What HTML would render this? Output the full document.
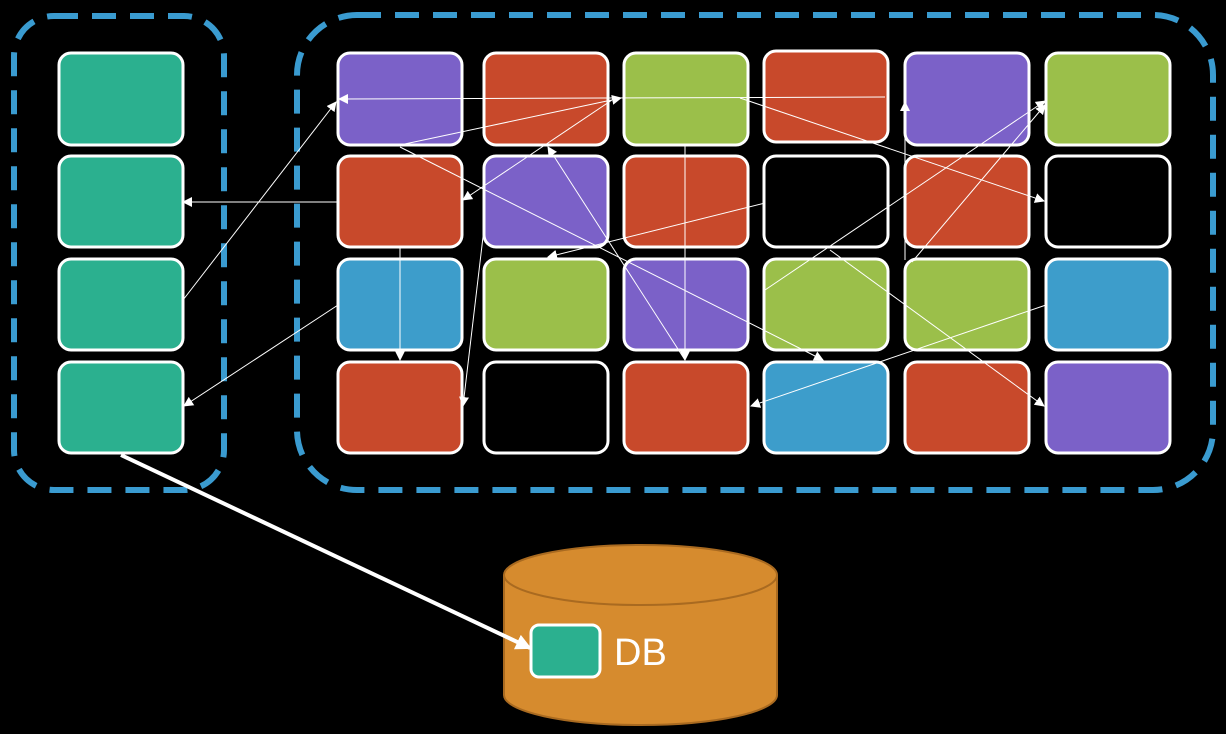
<!DOCTYPE html>
<html><head><meta charset="utf-8"><style>
html,body{margin:0;padding:0;background:#000;}
svg{display:block}
</style></head><body>
<svg width="1226" height="734" viewBox="0 0 1226 734" xmlns="http://www.w3.org/2000/svg">
<defs>
<marker id="a" markerWidth="10" markerHeight="10" refX="9" refY="5" orient="auto" markerUnits="userSpaceOnUse"><path d="M0,0 L10,5 L0,10 z" fill="#fff"/></marker>
<marker id="b" markerWidth="16" markerHeight="16" refX="14" refY="8" orient="auto" markerUnits="userSpaceOnUse"><path d="M0,0 L16,8 L0,16 z" fill="#fff"/></marker>
</defs>
<rect x="14" y="16" width="210" height="474" rx="40" fill="none" stroke="#3a9bd0" stroke-width="6" stroke-dasharray="24,14"/>
<rect x="297" y="15" width="916" height="475" rx="60" fill="none" stroke="#3a9bd0" stroke-width="6" stroke-dasharray="24,14"/>
<g stroke="#fff" stroke-width="3">
<rect x="59" y="53" width="124" height="92" rx="12" fill="#2bb08f"/>
<rect x="59" y="156" width="124" height="91" rx="12" fill="#2bb08f"/>
<rect x="59" y="259" width="124" height="91" rx="12" fill="#2bb08f"/>
<rect x="59" y="362" width="124" height="91" rx="12" fill="#2bb08f"/>

<rect x="338" y="53" width="124" height="92" rx="12" fill="#7b61c8"/>
<rect x="484" y="53" width="124" height="92" rx="12" fill="#c8492b"/>
<rect x="624" y="53" width="124" height="92" rx="12" fill="#9bbf4a"/>
<rect x="764" y="51" width="124" height="91" rx="12" fill="#c8492b"/>
<rect x="905" y="53" width="124" height="92" rx="12" fill="#7b61c8"/>
<rect x="1046" y="53" width="124" height="92" rx="12" fill="#9bbf4a"/>

<rect x="338" y="156" width="124" height="91" rx="12" fill="#c8492b"/>
<rect x="484" y="156" width="124" height="91" rx="12" fill="#7b61c8"/>
<rect x="624" y="156" width="124" height="91" rx="12" fill="#c8492b"/>
<rect x="764" y="156" width="124" height="91" rx="12" fill="#000"/>
<rect x="905" y="156" width="124" height="91" rx="12" fill="#c8492b"/>
<rect x="1046" y="156" width="124" height="91" rx="12" fill="#000"/>

<rect x="338" y="259" width="124" height="91" rx="12" fill="#3d9dcb"/>
<rect x="484" y="259" width="124" height="91" rx="12" fill="#9bbf4a"/>
<rect x="624" y="259" width="124" height="91" rx="12" fill="#7b61c8"/>
<rect x="764" y="259" width="124" height="91" rx="12" fill="#9bbf4a"/>
<rect x="905" y="259" width="124" height="91" rx="12" fill="#9bbf4a"/>
<rect x="1046" y="259" width="124" height="91" rx="12" fill="#3d9dcb"/>

<rect x="338" y="362" width="124" height="91" rx="12" fill="#c8492b"/>
<rect x="484" y="362" width="124" height="91" rx="12" fill="#000"/>
<rect x="624" y="362" width="124" height="91" rx="12" fill="#c8492b"/>
<rect x="764" y="362" width="124" height="91" rx="12" fill="#3d9dcb"/>
<rect x="905" y="362" width="124" height="91" rx="12" fill="#c8492b"/>
<rect x="1046" y="362" width="124" height="91" rx="12" fill="#7b61c8"/>
</g>
<g stroke="#fff" stroke-width="1" fill="none" marker-end="url(#a)">
<line x1="885" y1="97" x2="339" y2="99"/>
<line x1="183" y1="300" x2="336" y2="102"/>
<line x1="338" y1="202" x2="183" y2="202"/>
<line x1="338" y1="305" x2="184" y2="406"/>
<line x1="400" y1="248" x2="400" y2="360"/>
<line x1="400" y1="145" x2="621" y2="98"/>
<line x1="612" y1="100" x2="463" y2="200"/>
<line x1="400" y1="147" x2="823" y2="360"/>
<line x1="685" y1="360" x2="548" y2="147"/>
<line x1="685" y1="145" x2="685" y2="360"/>
<line x1="485" y1="220" x2="463" y2="406"/>
<line x1="765" y1="203" x2="548" y2="257"/>
<line x1="905" y1="260" x2="905" y2="102"/>
<line x1="740" y1="98" x2="1044" y2="201"/>
<line x1="765" y1="290" x2="1045" y2="101"/>
<line x1="912" y1="262" x2="1045" y2="105"/>
<line x1="830" y1="250" x2="1044" y2="406"/>
<line x1="1046" y1="305" x2="751" y2="406"/>
</g>
<path d="M504,575 L504,695 A136.5,30 0 0 0 777,695 L777,575" fill="#d68b2e" stroke="#a96a20" stroke-width="2"/>
<ellipse cx="640.5" cy="575" rx="136.5" ry="30" fill="#d68b2e" stroke="#a96a20" stroke-width="2"/>
<rect x="531" y="625" width="69" height="52" rx="8" fill="#2bb08f" stroke="#fff" stroke-width="3"/>
<text x="614" y="665" font-family="Liberation Sans, sans-serif" font-size="38" fill="#fff">DB</text>
<line x1="121" y1="455" x2="530" y2="648" stroke="#fff" stroke-width="4" marker-end="url(#b)"/>
</svg>
</body></html>
